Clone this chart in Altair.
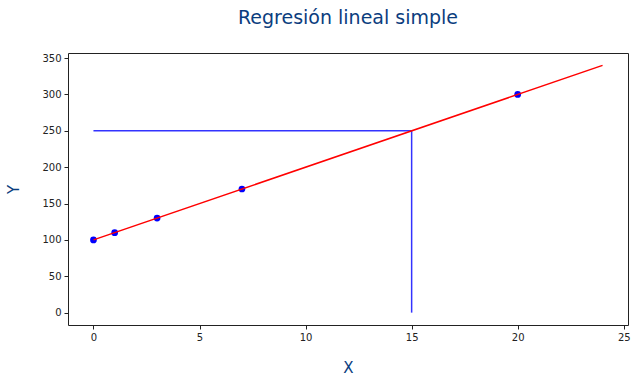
import altair as alt
import pandas as pd

pts_x = [0, 1, 3, 7, 20]
pts_y = [100, 110, 130, 170, 300]
line_x = [0, 24]
line_y = [100, 340]
h_x, h_x2, h_y = [0], [15], [250]
v_x, v_y, v_y2 = [15], [250], [0]
x_ticks = [0, 5, 10, 15, 20, 25]
y_ticks = [0, 50, 100, 150, 200, 250, 300, 350]

pts = pd.DataFrame({"x": pts_x, "y": pts_y})
ln = pd.DataFrame({"x": line_x, "y": line_y})
hl = pd.DataFrame({"x": h_x, "x2": h_x2, "y": h_y})
vl = pd.DataFrame({"x": v_x, "y": v_y, "y2": v_y2})

xs = alt.Scale(domain=[-1.2, 25.2], nice=False, zero=False)
ys = alt.Scale(domain=[-17, 357], nice=False, zero=False)
blue_t = "#0b3d7e"

xax = alt.Axis(values=x_ticks, title="X", grid=False, titleY=35,
               titleBaseline="top", labelOverlap=False,
               titleColor=blue_t, titleFontSize=15, titleFontWeight="normal")
yax = alt.Axis(values=y_ticks, title="Y", grid=False,
               titleX=-55, titleY=136, titleAngle=270, titleBaseline="middle",
               labelOverlap=False,
               titleColor=blue_t, titleFontSize=15, titleFontWeight="normal")

X = alt.X("x:Q", scale=xs, axis=xax)
Y = alt.Y("y:Q", scale=ys, axis=yax)

hrule = alt.Chart(hl).mark_rule(color="#3333ff", strokeWidth=1.5).encode(
    x=X, x2="x2", y=Y)
vrule = alt.Chart(vl).mark_rule(color="#3333ff", strokeWidth=1.5).encode(
    x=X, y=Y, y2="y2")
points = alt.Chart(pts).mark_circle(color="#0000ff", opacity=1, size=45).encode(
    x=X, y=Y)
line = alt.Chart(ln).mark_line(color="#ff0000", strokeWidth=1.5).encode(
    x=X, y=Y)

chart = alt.layer(hrule, vrule, points, line).properties(
    width=560, height=272,
    title=alt.TitleParams("Regresión lineal simple", fontSize=19, color=blue_t,
                          fontWeight="normal", font="DejaVu Sans", offset=25),
    autosize=alt.AutoSizeParams(type="none"),
    padding={"left": 68, "top": 53, "right": 7, "bottom": 59},
).configure_view(stroke="#222222", strokeWidth=1).configure_axis(
    labelFont="DejaVu Sans", titleFont="DejaVu Sans", labelFontSize=10,
    labelColor="#222222", domain=False, tickColor="#222222", tickSize=4,
    labelPadding=3, labelOverlap=False,
)

chart.save("out.html", embed_options={"renderer": "svg", "actions": False})
